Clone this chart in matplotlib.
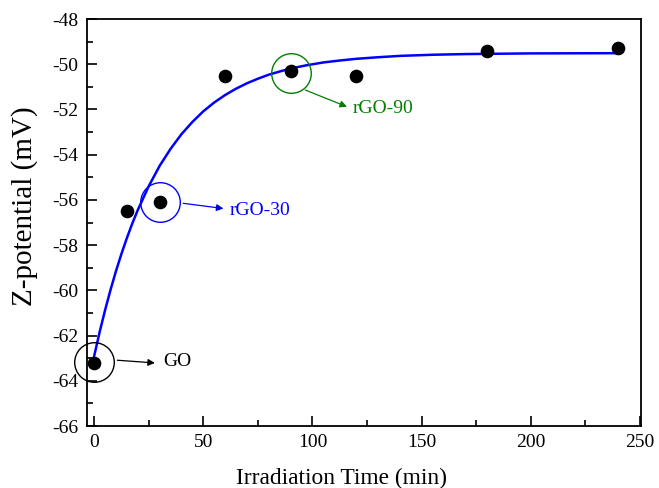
import numpy as np
import matplotlib.pyplot as plt
from matplotlib.ticker import MultipleLocator

plt.rcParams['font.family'] = ['Liberation Serif', 'DejaVu Serif']
plt.rcParams['axes.unicode_minus'] = False

# > Data
time_min = [0, 15, 30, 60, 90, 120, 180, 240]
zeta_mv = [-63.2, -56.5, -56.1, -50.5, -50.3, -50.5, -49.4, -49.3]

# fitted curve, values
fit_t = [0, 2.5, 5, 7.5, 10, 12.5, 15, 17.5, 20, 25, 30, 35, 40, 45, 50, 55, 60, 65, 70,
         75, 80, 85, 90, 97, 105, 112, 120, 130, 140, 155, 170, 200, 240]
fit_z = [-62.9, -61.84, -60.87, -59.97, -59.14, -58.38, -57.68, -57.03, -56.44, -55.39,
         -54.49, -53.74, -53.09, -52.55, -52.08, -51.69, -51.36, -51.08, -50.84, -50.64,
         -50.46, -50.32, -50.19, -50.05, -49.92, -49.84, -49.76, -49.69, -49.63, -49.58,
         -49.55, -49.52, -49.51]

# highlighted samples: label, point, arrow start, arrow end, text position, colour
labels = ['GO', 'rGO-30', 'rGO-90']
marked_t = [0, 30, 90]
marked_z = [-63.15, -56.1, -50.4]
arrow_from = [(10.6, -63.09), (40.8, -56.15), (96.7, -51.14)]
arrow_to = [(27.8, -63.21), (59.2, -56.38), (115.8, -51.88)]
text_at = [(31.5, -63.15), (62.2, -56.48), (118.2, -51.94)]
colors = ['black', 'blue', 'green']

fig = plt.figure(figsize=(6.59, 4.88), dpi=100)
ax = fig.add_axes([0.132, 0.127, 0.841, 0.834])

ax.plot(fit_t, fit_z, color='blue', lw=1.8, zorder=2)
ax.plot(time_min, zeta_mv, 'o', color='black', ms=8.8, zorder=3)

for i, lab in enumerate(labels):
    ax.plot(marked_t[i], marked_z[i], 'o', mfc='none', mec=colors[i], ms=28.5, mew=1.0,
            zorder=4, clip_on=False)
    ax.annotate('', xy=arrow_to[i], xytext=arrow_from[i],
                arrowprops=dict(arrowstyle='-|>', color=colors[i], lw=0.9,
                                mutation_scale=10, shrinkA=0, shrinkB=0))
    ax.text(text_at[i][0], text_at[i][1], lab, color=colors[i], fontsize=14,
            va='center', ha='left')

ax.set_xlim(-3.3, 250.6)
ax.set_ylim(-66, -48)
ax.xaxis.set_major_locator(MultipleLocator(50))
ax.xaxis.set_minor_locator(MultipleLocator(25))
ax.yaxis.set_major_locator(MultipleLocator(2))
ax.yaxis.set_minor_locator(MultipleLocator(1))
ax.tick_params(which='both', direction='in', top=False, right=False, labelsize=14, width=1.2)
ax.tick_params(which='major', length=7, pad=6)
ax.tick_params(which='minor', length=4)
for s in ax.spines.values():
    s.set_linewidth(1.3)

ax.set_xlabel('Irradiation Time (min)', fontsize=16.8, va='center')
ax.xaxis.set_label_coords(0.459, -0.130)
ax.set_ylabel('Z-potential (mV)', fontsize=21, va='center')
ax.yaxis.set_label_coords(-0.112, 0.54)

plt.savefig('out.png', dpi=100)
